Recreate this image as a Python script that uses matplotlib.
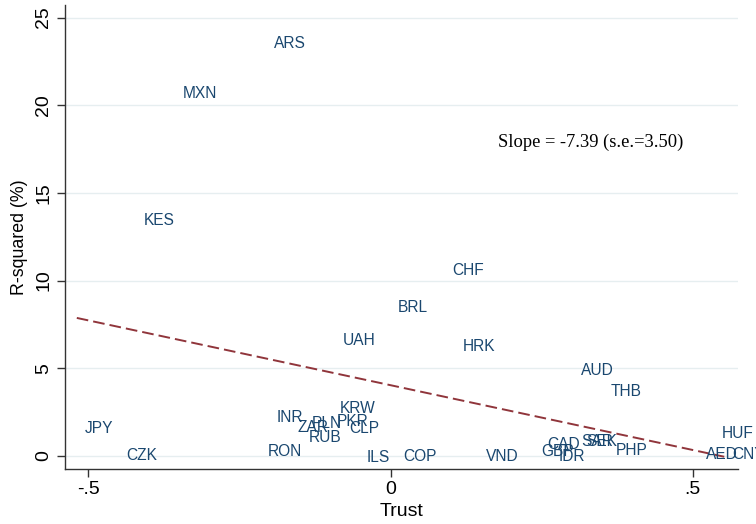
import numpy as np
import matplotlib
matplotlib.use("Agg")
import matplotlib.pyplot as plt

plt.rcParams['font.family'] = ['Liberation Sans', 'DejaVu Sans']

currencies = ["ARS", "MXN", "KES", "CHF", "BRL", "UAH", "HRK", "AUD", "THB",
              "JPY", "CZK", "INR", "ZAR", "PLN", "PKR", "KRW", "CLP", "RUB",
              "RON", "ILS", "COP", "VND", "GBP", "CAD", "IDR", "SAR", "SEK",
              "PHP", "HUF", "AED", "CNY"]
trust = [-0.207, -0.357, -0.421, 0.089, -0.002, -0.093, 0.106, 0.301, 0.350,
         -0.519, -0.450, -0.202, -0.167, -0.144, -0.102, -0.098, -0.081, -0.149,
         -0.217, -0.053, 0.007, 0.145, 0.236, 0.246, 0.264, 0.302, 0.311,
         0.360, 0.534, 0.509, 0.552]
r_squared = [23.52, 20.67, 13.44, 10.59, 8.49, 6.61, 6.22, 4.90, 3.70,
             1.54, 0.02, 2.22, 1.65, 1.88, 1.99, 2.68, 1.59, 1.03,
             0.23, -0.06, 0.00, 0.00, 0.28, 0.68, 0.00, 0.80, 0.85,
             0.34, 1.31, 0.11, 0.11]
slope, slope_se = -7.39, 3.50

x = np.array(trust)
y = np.array(r_squared)
intercept = y.mean() - slope * x.mean()

navy = "#1a476f"
maroon = "#90353b"

fig = plt.figure(figsize=(7.56, 5.24), dpi=100)
ax = fig.add_axes([0.0856, 0.105, 0.890, 0.885])

ax.set_xlim(-0.539, 0.574)
ax.set_ylim(-0.74, 25.7)

# light horizontal grid at each y tick
yt = [0, 5, 10, 15, 20, 25]
for v in yt:
    ax.axhline(v, color="#e6eef0", lw=1.0, zorder=0)

# fitted line over the observed range of trust
xf = np.array([x.min(), x.max()])
ax.plot(xf, intercept + slope * xf, color=maroon, lw=1.4,
        dashes=(6, 2.6), zorder=2)

# currency labels placed to the right of each (invisible) point
for name, xi, yi in zip(currencies, x, y):
    ax.annotate(name, (xi, yi), xytext=(5.8, 0), textcoords="offset points",
                ha="left", va="center", fontsize=11.2, color=navy,
                annotation_clip=False, zorder=3)

ax.text(0.177, 17.88, f"Slope = {slope:.2f} (s.e.={slope_se:.2f})",
        family="Liberation Serif", fontsize=13.3, color="black",
        ha="left", va="center")

for side in ("top", "right"):
    ax.spines[side].set_visible(False)
for side in ("left", "bottom"):
    ax.spines[side].set_color("#333333")
    ax.spines[side].set_linewidth(1.0)

ax.set_yticks(yt)
ax.set_yticklabels([str(v) for v in yt], rotation=90, va="center")
ax.set_xticks([-0.5, 0, 0.5])
ax.set_xticklabels(["-.5", "0", ".5"])
ax.tick_params(axis="both", direction="out", length=6, width=1.0,
               color="#333333", labelsize=14, pad=3)

ax.set_xlabel("Trust", fontsize=14, labelpad=3)
ax.set_ylabel("R-squared (%)", fontsize=12.8, labelpad=5)

fig.savefig("out.png", dpi=100)
